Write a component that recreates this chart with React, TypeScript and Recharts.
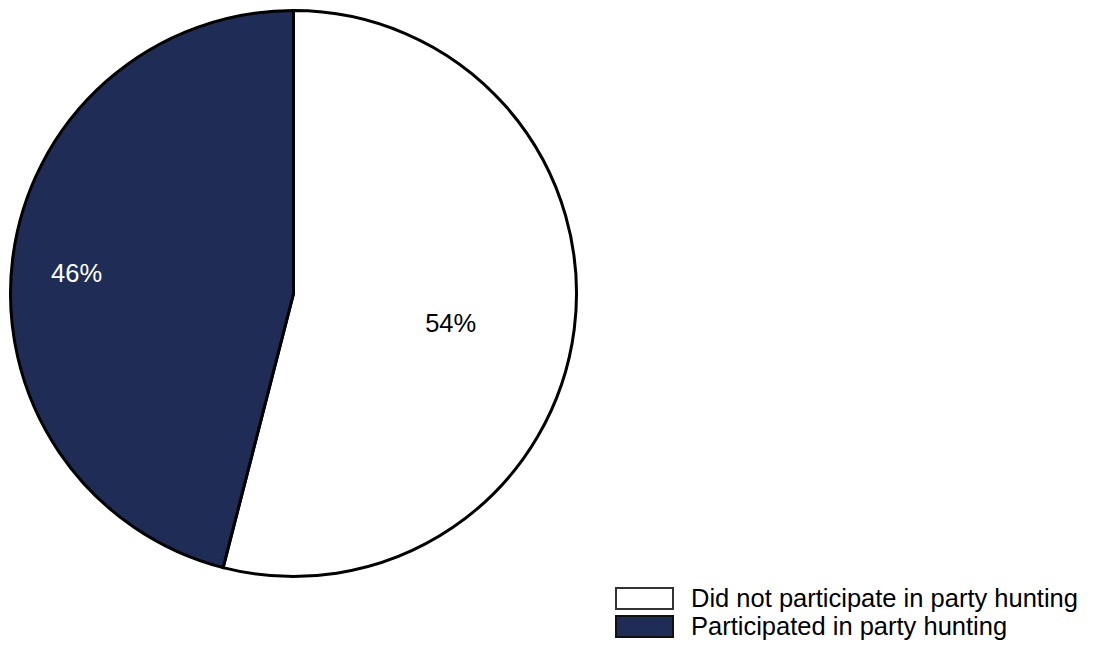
import { PieChart, Pie, Cell, Legend } from 'recharts';

const categories = ['Did not participate in party hunting', 'Participated in party hunting'];
const shares = [54, 46];

const COLORS = ['#FFFFFF', '#1F2D56'];
const LABEL_COLORS = ['#000000', '#FFFFFF'];
// label radius ratio and angle nudge (degrees) per slice
const LABEL_POS = [
  { ratio: 0.565, shift: -3.4 },
  { ratio: 0.77, shift: 1.8 },
];

const CX = 293.5;
const CY = 293.5;
const R = 283;
const RAD = Math.PI / 180;
const FONT = "'Liberation Sans', Arial, sans-serif";

const chartData = categories.map((name, i) => ({ name, value: shares[i] }));

const renderLabel = (props: any) => {
  const { midAngle, percent, index } = props;
  const pos = LABEL_POS[index];
  const a = (midAngle + pos.shift) * RAD;
  const r = R * pos.ratio;
  const x = CX + r * Math.cos(-a);
  const y = CY + r * Math.sin(-a);
  return (
    <text
      x={x}
      y={y}
      fill={LABEL_COLORS[index]}
      textAnchor="middle"
      dominantBaseline="central"
      fontSize={25.5}
      fontFamily={FONT}
    >
      {`${Math.round(percent * 100)}%`}
    </text>
  );
};

const renderLegend = () => (
  <div style={{ fontFamily: FONT, fontSize: 25.5, color: '#000' }}>
    {categories.map((name, i) => (
      <div key={name} style={{ display: 'flex', alignItems: 'center', height: 28 }}>
        <div
          style={{
            width: 59,
            height: 23,
            boxSizing: 'border-box',
            background: COLORS[i],
            border: i === 0 ? '2px solid #333' : '2px solid #111',
            marginRight: 17,
          }}
        />
        <span style={{ lineHeight: '28px', whiteSpace: 'nowrap' }}>{name}</span>
      </div>
    ))}
  </div>
);

export default function App() {
  return (
    <div style={{ position: 'absolute', left: 0, top: 0, background: '#fff' }}>
      <PieChart width={1100} height={656} margin={{ top: 0, right: 0, bottom: 0, left: 0 }}>
        <Pie
          data={chartData}
          dataKey="value"
          nameKey="name"
          cx={CX}
          cy={CY}
          outerRadius={R}
          startAngle={90}
          endAngle={-270}
          stroke="#000"
          strokeWidth={3}
          labelLine={false}
          label={renderLabel}
          isAnimationActive={false}
        >
          {chartData.map((entry, index) => (
            <Cell key={`cell-${index}`} fill={COLORS[index]} stroke="#000" strokeWidth={3} />
          ))}
        </Pie>
        <Legend
          content={renderLegend}
          wrapperStyle={{ position: 'absolute', left: 615, top: 584, width: 485 }}
        />
      </PieChart>
    </div>
  );
}
